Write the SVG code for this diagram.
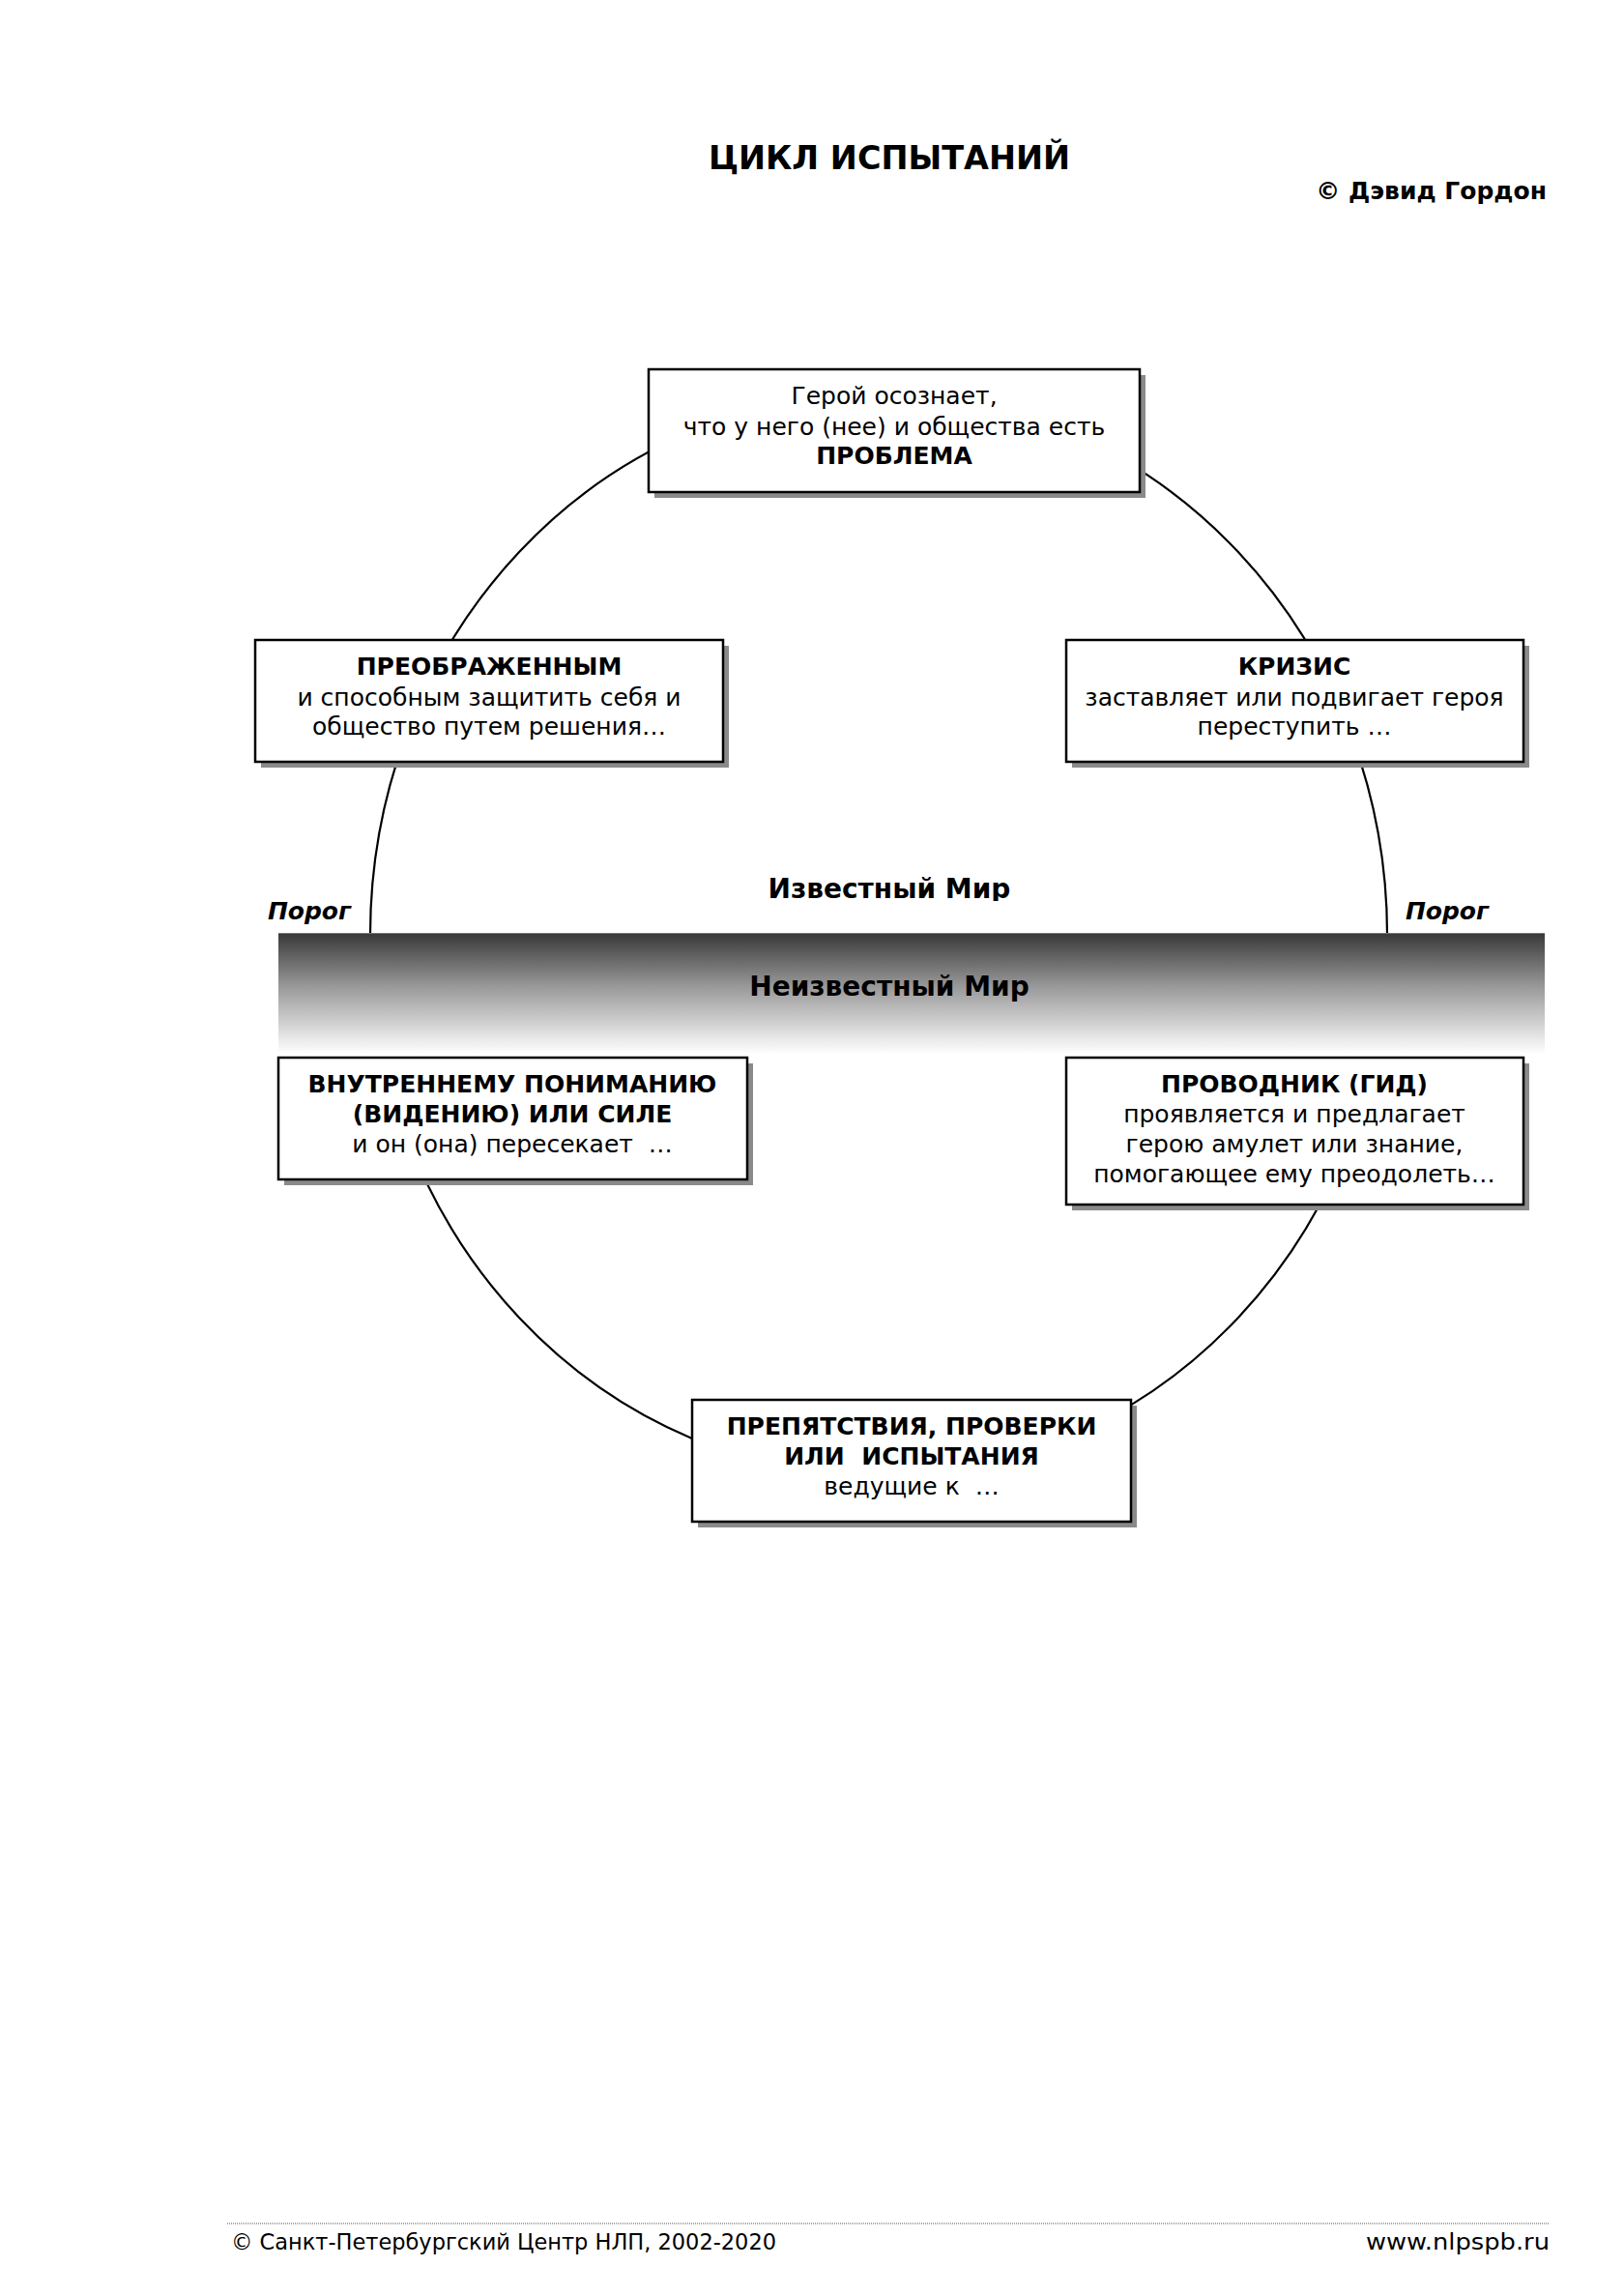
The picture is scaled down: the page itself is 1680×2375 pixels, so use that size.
<svg xmlns="http://www.w3.org/2000/svg" width="1680" height="2375" viewBox="0 0 1680 2375">
<style>
text{font-family:"DejaVu Sans","Noto Sans",sans-serif;fill:#000}
.b{font-weight:bold}
.t{font-size:25px;text-anchor:middle}
.box{fill:#fff;stroke:#000;stroke-width:2.5}
.sh{fill:#8a8a8a}
.arc{fill:none;stroke:#000;stroke-width:2.2}
</style>
<defs>
<linearGradient id="band" x1="0" y1="0" x2="0" y2="1">
<stop offset="0" stop-color="#383838"/>
<stop offset="0.45" stop-color="#9a9a9a"/>
<stop offset="1" stop-color="#ffffff"/>
</linearGradient>
<clipPath id="kclip"><rect x="700" y="880" width="440" height="52"/></clipPath>
<clipPath id="aclip"><rect x="0" y="0" width="1680" height="966"/><rect x="0" y="1094" width="1680" height="1281"/></clipPath>
</defs>
<rect width="1680" height="2375" fill="#fff"/>
<text class="b" x="920" y="175" font-size="33.5" text-anchor="middle">ЦИКЛ ИСПЫТАНИЙ</text>
<text class="b" x="1600" y="206" font-size="25" text-anchor="end">© Дэвид Гордон</text>
<g id="connectors">
<ellipse class="arc" cx="909" cy="967" rx="526" ry="560" clip-path="url(#aclip)"/>
</g>
<g id="band-group">
<rect x="288" y="965" width="1310" height="125" fill="url(#band)"/>
<line x1="288" y1="965.5" x2="1598" y2="965.5" stroke="#777" stroke-width="1"/>
</g>
<text class="b" x="920" y="929" font-size="28" text-anchor="middle" clip-path="url(#kclip)">Известный Мир</text>
<text class="b" x="920" y="1030" font-size="28" text-anchor="middle">Неизвестный Мир</text>
<text class="b" x="320" y="951" font-size="25" font-style="italic" text-anchor="middle">Порог</text>
<text class="b" x="1497" y="951" font-size="25" font-style="italic" text-anchor="middle">Порог</text>
<g id="n-problem">
<rect class="sh" x="677" y="388" width="508" height="127"/>
<rect class="box" x="671" y="382" width="508" height="127"/>
<text class="t" x="925" y="418">Герой осознает,</text>
<text class="t" x="925" y="450">что у него (нее) и общества есть</text>
<text class="t b" x="925" y="480">ПРОБЛЕМА</text>
</g>
<g id="n-crisis">
<rect class="sh" x="1109" y="668" width="473" height="126"/>
<rect class="box" x="1103" y="662" width="473" height="126"/>
<text class="t b" x="1339" y="698">КРИЗИС</text>
<text class="t" x="1339" y="730">заставляет или подвигает героя</text>
<text class="t" x="1339" y="760">переступить …</text>
</g>
<g id="n-transformed">
<rect class="sh" x="270" y="668" width="484" height="126"/>
<rect class="box" x="264" y="662" width="484" height="126"/>
<text class="t b" x="506" y="698">ПРЕОБРАЖЕННЫМ</text>
<text class="t" x="506" y="730">и способным защитить себя и</text>
<text class="t" x="506" y="760">общество путем решения…</text>
</g>
<g id="n-guide">
<rect class="sh" x="1109" y="1100" width="473" height="152"/>
<rect class="box" x="1103" y="1094" width="473" height="152"/>
<text class="t b" x="1339" y="1130">ПРОВОДНИК (ГИД)</text>
<text class="t" x="1339" y="1161">проявляется и предлагает</text>
<text class="t" x="1339" y="1192">герою амулет или знание,</text>
<text class="t" x="1339" y="1223">помогающее ему преодолеть…</text>
</g>
<g id="n-insight">
<rect class="sh" x="294" y="1100" width="485" height="126"/>
<rect class="box" x="288" y="1094" width="485" height="126"/>
<text class="t b" x="530" y="1130">ВНУТРЕННЕМУ ПОНИМАНИЮ</text>
<text class="t b" x="530" y="1161">(ВИДЕНИЮ) ИЛИ СИЛЕ</text>
<text class="t" x="530" y="1192" xml:space="preserve">и он (она) пересекает  …</text>
</g>
<g id="n-trials">
<rect class="sh" x="722" y="1454" width="454" height="126"/>
<rect class="box" x="716" y="1448" width="454" height="126"/>
<text class="t b" x="943" y="1484">ПРЕПЯТСТВИЯ, ПРОВЕРКИ</text>
<text class="t b" x="943" y="1515" xml:space="preserve">ИЛИ  ИСПЫТАНИЯ</text>
<text class="t" x="943" y="1546" xml:space="preserve">ведущие к  …</text>
</g>
<line x1="235" y1="2300" x2="1603" y2="2300" stroke="#555" stroke-width="1" stroke-dasharray="1 1"/>
<text x="239" y="2327" font-size="22.5" textLength="564" lengthAdjust="spacingAndGlyphs">© Санкт-Петербургский Центр НЛП, 2002-2020</text>
<text x="1413" y="2327" font-size="22.5" textLength="190" lengthAdjust="spacingAndGlyphs">www.nlpspb.ru</text>
</svg>
